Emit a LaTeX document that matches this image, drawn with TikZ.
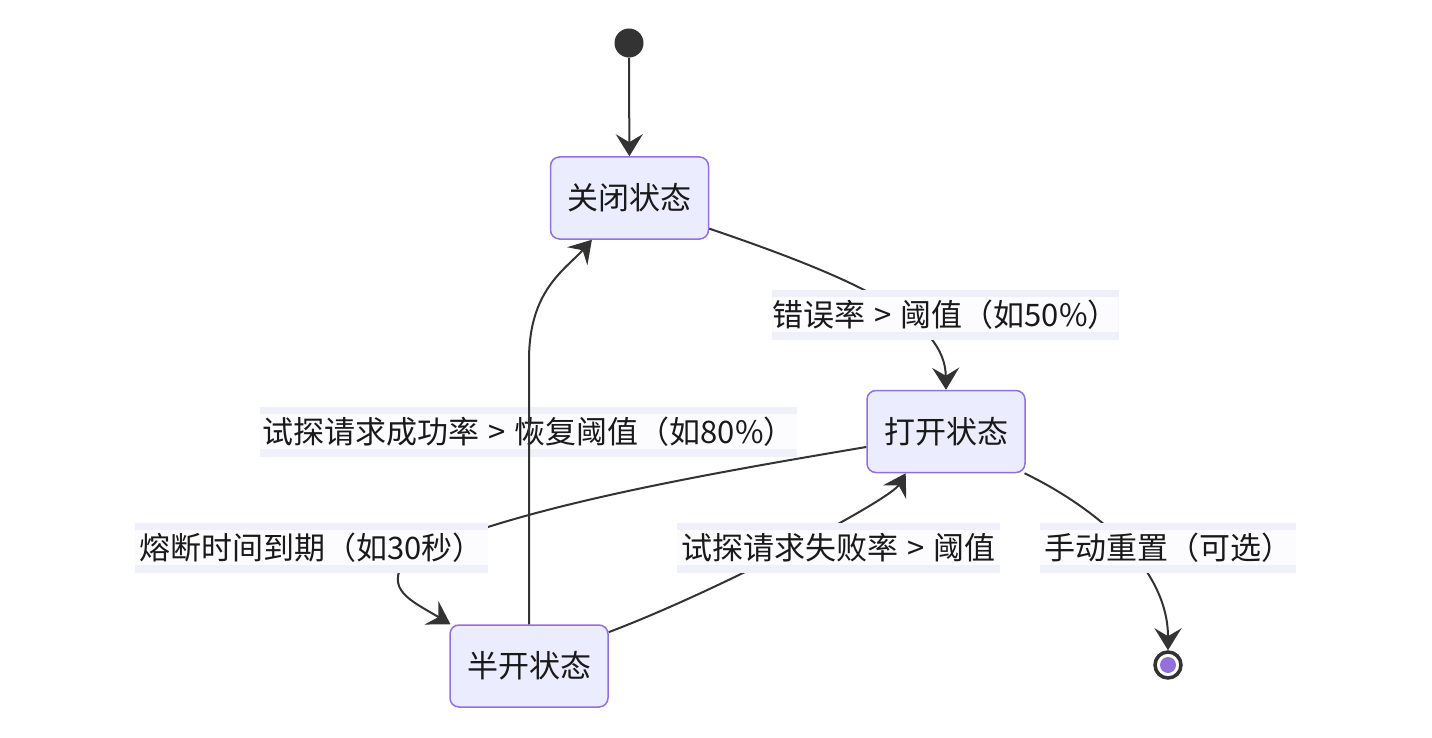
\documentclass[tikz,border=0pt]{standalone}
\usepackage{fontspec}
\newfontfamily\cjk{Noto Sans CJK SC}
\usetikzlibrary{arrows.meta}

\definecolor{statefill}{HTML}{ECECFF}
\definecolor{stateline}{HTML}{9370DB}
\definecolor{edgecol}{HTML}{333333}
\definecolor{lblband}{HTML}{F0F0FA}
\definecolor{lblmid}{HTML}{FCFCFF}

\tikzset{
  state/.style={draw=stateline, line width=1.5pt, fill=statefill, rounded corners=9pt,
    minimum width=158pt, minimum height=82pt, text=black!90,
    font=\cjk\fontsize{31}{36}\selectfont},
  startdot/.style={circle, fill=edgecol, minimum size=29pt, inner sep=0pt},
  enddot/.style={circle, draw=edgecol, line width=3.5pt, fill=white, minimum size=26pt,
    inner sep=0pt, path picture={\fill[stateline] (path picture bounding box.center) circle (8pt);}},
  edge/.style={draw=edgecol, line width=2pt, -{Stealth[length=22pt,width=27pt,inset=8pt]}},
  lbl/.style={fill=lblband, minimum width=#1, inner xsep=0pt, inner ysep=0pt,
    minimum height=50pt, text=black!90, font=\cjk\fontsize{31}{36}\selectfont,
    execute at begin node={\spaceskip=9pt\relax},
    path picture={\fill[lblmid] ([yshift=-7pt]path picture bounding box.north west)
      rectangle ([yshift=8pt]path picture bounding box.south east);}},
}

\begin{document}
\begin{tikzpicture}[x=1pt, y=-1pt]
  \useasboundingbox (0,0) rectangle (1432,738);

  \node[startdot] (start) at (629,43) {};
  \node[state] (closed) at (629.5,198) {关闭状态};
  \node[state] (open) at (946,431.5) {打开状态};
  \node[state] (half) at (529,666) {半开状态};
  \node[enddot] (end) at (1168,665) {};

  \coordinate (k2) at (529,360);
  \coordinate (k3) at (405,560);

  \draw[edge] (start) -- (closed);
  \draw[edge] (closed.-21) .. controls (860,280) and (945,320) .. (open.north);
  \draw[edge] (open.191) .. controls (700,475) and (500,510) .. (k3)
    .. controls (385,590) and (410,600) .. (half.152);
  \draw[edge] (half.23) .. controls (720,590) and (890,500) .. (open.-134);
  \draw[edge] (open.-28) .. controls (1100,510) and (1168,570) .. (end.north);

  \node[lbl=345pt] (errlbl) at (945.5,315) {错误率 > 阈值（如50\%）};
  \node[lbl=537pt] (oklbl) at (528.5,432) {试探请求成功率 > 恢复阈值（如80\%）};
  \node[lbl=353pt] (timelbl) at (311.5,548) {熔断时间到期（如30秒）};
  \node[lbl=323pt] (faillbl) at (838.5,548) {试探请求失败率 > 阈值};
  \node[lbl=256pt] (resetlbl) at (1168,548) {手动重置（可选）};

  \draw[edge] (half.north) -- (k2) .. controls (529,290) and (565,270) .. (closed.-132);
\end{tikzpicture}
\end{document}
